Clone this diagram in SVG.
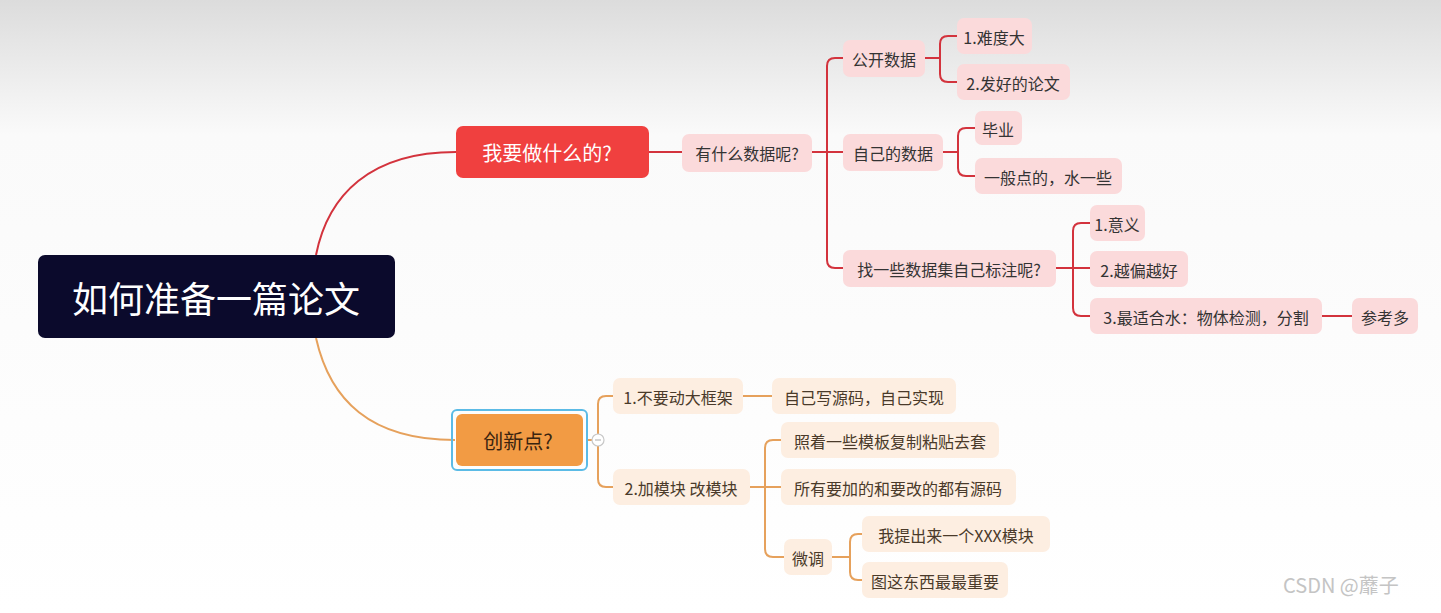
<svg xmlns="http://www.w3.org/2000/svg" width="1441" height="613" viewBox="0 0 1441 613">
<defs>
<linearGradient id="bg" x1="0" y1="0" x2="0" y2="1">
<stop offset="0" stop-color="#dcdcdc"/>
<stop offset="0.22" stop-color="#fafafa"/>
<stop offset="1" stop-color="#ffffff"/>
</linearGradient>
</defs>
<style>
text{font-family:"Noto Sans CJK SC","Noto Sans",sans-serif;dominant-baseline:central}
.red{fill:none;stroke:#d3333d;stroke-width:2}
.org{fill:none;stroke:#e6a15c;stroke-width:2}
.pk{fill:#fbdadb}
.pc{fill:#fdeee1}
.t{font-size:16px;fill:#333}
.tc{font-size:16px;fill:#4a3a2a}
</style>
<rect width="1441" height="613" fill="url(#bg)"/>
<g id="connectors">
<path class="red" d="M316,255 C328,195 370,152 456,152"/>
<path class="org" d="M316,338 C330,400 370,440 455,440"/>
<path class="red" d="M649,152 H682"/>
<path class="red" d="M812,152 H843 M827,152 V66 Q827,58 835,58 H843 M827,152 V260 Q827,268 835,268 H843"/>
<path class="red" d="M925,58 H940 M940,58 V44 Q940,36 948,36 H957 M940,58 V74 Q940,82 948,82 H957"/>
<path class="red" d="M943,152 H958 M958,152 V136 Q958,128 966,128 H975 M958,152 V168 Q958,176 966,176 H975"/>
<path class="red" d="M1056,268 H1090 M1073,268 V231 Q1073,223 1081,223 H1090 M1073,268 V308 Q1073,316 1081,316 H1090"/>
<path class="red" d="M1322,316 H1352"/>
<path class="org" d="M587,440 H592 M598,434 V404 Q598,396 606,396 H613 M598,446 V479 Q598,487 606,487 H613"/>
<path class="org" d="M743,396 H772"/>
<path class="org" d="M750,487 H781 M765,487 V448 Q765,440 773,440 H781 M765,487 V549 Q765,557 773,557 H784"/>
<path class="org" d="M832,557 H850 M850,557 V542 Q850,534 858,534 H862 M850,557 V572 Q850,580 858,580 H862"/>
</g>
<g id="root"><rect x="38" y="255" width="357" height="83" rx="7" fill="#0b0a2c"/><text x="216" y="297" font-size="36" fill="#fff" text-anchor="middle">如何准备一篇论文</text></g>
<g id="n-what"><rect x="456" y="126" width="193" height="52" rx="7" fill="#f0403f"/><text x="547" y="152" font-size="20" fill="#fff" text-anchor="middle">我要做什么的?</text></g>
<g id="n-data"><rect class="pk" x="682" y="134" width="130" height="38" rx="7"/><text class="t" x="747" y="153" text-anchor="middle">有什么数据呢?</text></g>
<g id="n-public"><rect class="pk" x="843" y="40" width="82" height="37" rx="7"/><text class="t" x="884" y="59" text-anchor="middle">公开数据</text></g>
<g id="n-hard"><rect class="pk" x="957" y="18" width="75" height="36" rx="7"/><text class="t" x="994" y="37" text-anchor="middle">1.难度大</text></g>
<g id="n-paper"><rect class="pk" x="957" y="64" width="113" height="36" rx="7"/><text class="t" x="1013" y="83" text-anchor="middle">2.发好的论文</text></g>
<g id="n-own"><rect class="pk" x="843" y="134" width="100" height="37" rx="7"/><text class="t" x="893" y="153" text-anchor="middle">自己的数据</text></g>
<g id="n-grad"><rect class="pk" x="975" y="111" width="47" height="34" rx="7"/><text class="t" x="998" y="129" text-anchor="middle">毕业</text></g>
<g id="n-normal"><rect class="pk" x="975" y="158" width="147" height="36" rx="7"/><text class="t" x="1048" y="177" text-anchor="middle">一般点的，水一些</text></g>
<g id="n-label"><rect class="pk" x="843" y="250" width="213" height="37" rx="7"/><text class="t" x="949" y="269" text-anchor="middle">找一些数据集自己标注呢?</text></g>
<g id="n-mean"><rect class="pk" x="1090" y="205" width="55" height="36" rx="7"/><text class="t" x="1117" y="224" text-anchor="middle">1.意义</text></g>
<g id="n-rare"><rect class="pk" x="1090" y="251" width="98" height="36" rx="7"/><text class="t" x="1139" y="270" text-anchor="middle">2.越偏越好</text></g>
<g id="n-best"><rect class="pk" x="1090" y="298" width="232" height="36" rx="7"/><text class="t" x="1206" y="317" text-anchor="middle">3.最适合水：物体检测，分割</text></g>
<g id="n-ref"><rect class="pk" x="1352" y="298" width="66" height="36" rx="7"/><text class="t" x="1385" y="317" text-anchor="middle">参考多</text></g>
<g id="n-innov"><rect x="452" y="410" width="135" height="60" rx="5" fill="none" stroke="#5bbbe6" stroke-width="2"/><rect x="456" y="414" width="127" height="52" rx="6" fill="#f29b44"/><text x="518" y="440" font-size="20" fill="#3a2410" text-anchor="middle">创新点?</text><circle cx="598" cy="440" r="6" fill="#fff" stroke="#c8c8c8" stroke-width="1.2"/><path d="M595,440 H601" stroke="#aaa" stroke-width="1"/></g>
<g id="n-nochange"><rect class="pc" x="613" y="378" width="130" height="36" rx="7"/><text class="tc" x="678" y="397" text-anchor="middle">1.不要动大框架</text></g>
<g id="n-selfcode"><rect class="pc" x="772" y="378" width="184" height="36" rx="7"/><text class="tc" x="864" y="397" text-anchor="middle">自己写源码，自己实现</text></g>
<g id="n-module"><rect class="pc" x="613" y="469" width="137" height="36" rx="7"/><text class="tc" x="681" y="488" text-anchor="middle">2.加模块 改模块</text></g>
<g id="n-copy"><rect class="pc" x="781" y="422" width="218" height="36" rx="7"/><text class="tc" x="890" y="441" text-anchor="middle">照着一些模板复制粘贴去套</text></g>
<g id="n-source"><rect class="pc" x="781" y="469" width="235" height="36" rx="7"/><text class="tc" x="898" y="488" text-anchor="middle">所有要加的和要改的都有源码</text></g>
<g id="n-tune"><rect class="pc" x="784" y="539" width="48" height="36" rx="7"/><text class="tc" x="808" y="558" text-anchor="middle">微调</text></g>
<g id="n-xxx"><rect class="pc" x="862" y="516" width="188" height="36" rx="7"/><text class="tc" x="956" y="535" text-anchor="middle">我提出来一个XXX模块</text></g>
<g id="n-fig"><rect class="pc" x="862" y="562" width="146" height="36" rx="7"/><text class="tc" x="935" y="581" text-anchor="middle">图这东西最最重要</text></g>
<text x="1283" y="584" font-size="20" fill="#c4c4c4">CSDN @蘼子</text>
</svg>
